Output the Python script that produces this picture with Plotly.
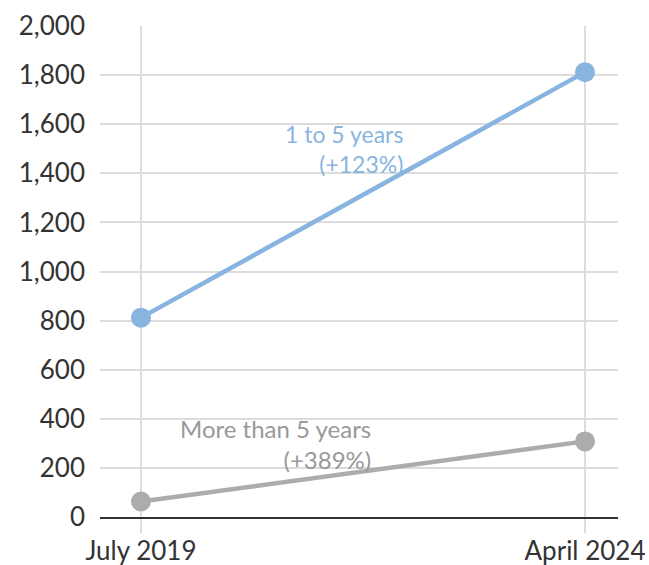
import plotly.graph_objects as go

categories = ["July 2019", "April 2024"]
one_to_five = [812, 1812]
more_than_five = [63, 308]
y_ticks = [0, 200, 400, 600, 800, 1000, 1200, 1400, 1600, 1800, 2000]
y_tick_labels = ["0", "200", "400", "600", "800", "1,000", "1,200", "1,400", "1,600", "1,800", "2,000"]

BLUE = "#89b4e0"
GREY = "#adacad"
GRID = "#dcdcdc"
FONT = "Lato"

fig = go.Figure()
fig.add_trace(go.Scatter(x=categories, y=more_than_five, mode="lines+markers",
                         line=dict(color=GREY, width=4.5), marker=dict(size=20, color=GREY),
                         cliponaxis=False, showlegend=False, hoverinfo="skip"))
fig.add_trace(go.Scatter(x=categories, y=one_to_five, mode="lines+markers",
                         line=dict(color=BLUE, width=4.5), marker=dict(size=20, color=BLUE),
                         cliponaxis=False, showlegend=False, hoverinfo="skip"))

# gridline extensions below the axis
for c in categories:
    fig.add_shape(type="line", xref="x", yref="paper", x0=c, x1=c, y0=0, y1=-0.033,
                  line=dict(color=GRID, width=2), layer="below")

fig.add_annotation(x=0.595, y=1500, xref="x", yref="y", text="1 to 5 years<br>(+123%)",
                   showarrow=False, xanchor="right", yanchor="middle", align="right",
                   font=dict(family=FONT, size=23, color=BLUE))
fig.add_annotation(x=0.523, y=297, xref="x", yref="y", text="More than 5 years<br>(+389%)",
                   showarrow=False, xanchor="right", yanchor="middle", align="right",
                   font=dict(family=FONT, size=24, color="#999999"))

fig.update_layout(
    width=649, height=565,
    margin=dict(l=100, r=31, t=26, b=48),
    paper_bgcolor="white", plot_bgcolor="white",
    font=dict(family=FONT, size=26, color="#333333"),
    xaxis=dict(type="category", range=[-0.0923, 1.0743], showgrid=True, gridcolor=GRID, gridwidth=2,
               ticks="", automargin=False, ticklabelstandoff=10,
               showline=True, linecolor="#333333", linewidth=2,
               tickfont=dict(family=FONT, size=26, color="#333333"), zeroline=False),
    yaxis=dict(range=[0, 2000], tickvals=y_ticks, ticktext=y_tick_labels, showgrid=True,
               gridcolor=GRID, gridwidth=2, zeroline=False, showline=False, automargin=False,
               ticks="", ticklabelstandoff=14,
               tickfont=dict(family=FONT, size=26, color="#333333")),
)
fig.write_html("out.html")
